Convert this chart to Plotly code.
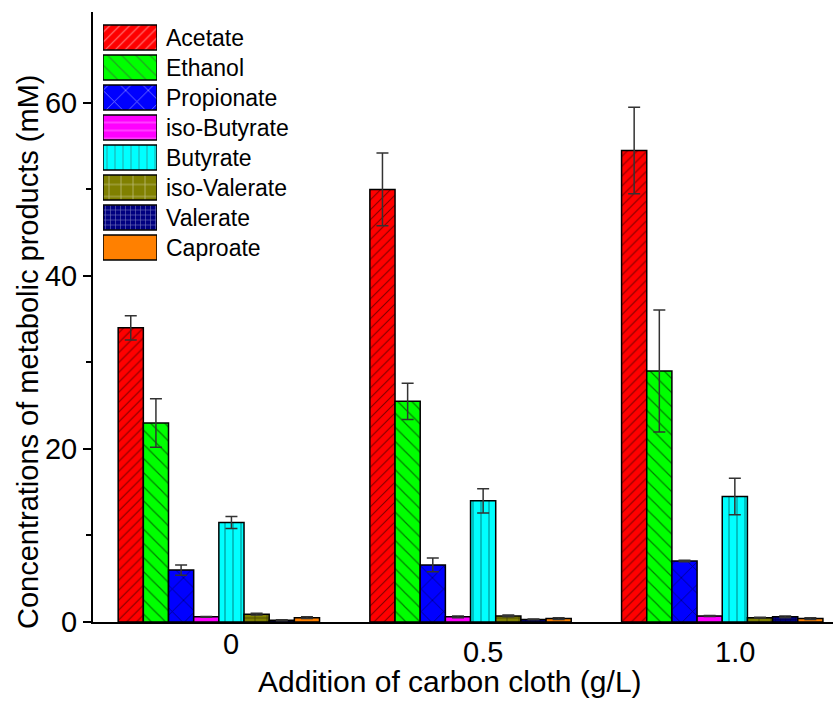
import plotly.graph_objects as go

# ---- data ----
groups = [0, 1, 2]
tick_labels = ["0", "0.5", "1.0"]
series_names = ["Acetate", "Ethanol", "Propionate", "iso-Butyrate",
                "Butyrate", "iso-Valerate", "Valerate", "Caproate"]
acetate = [34.0, 50.0, 54.5]
acetate_err = [1.4, 4.2, 5.0]
ethanol = [23.0, 25.5, 29.0]
ethanol_err = [2.8, 2.1, 7.05]
propionate = [6.0, 6.6, 7.05]
propionate_err = [0.6, 0.8, 0.1]
iso_butyrate = [0.6, 0.6, 0.7]
iso_butyrate_err = [0.05, 0.1, 0.05]
butyrate = [11.5, 14.0, 14.5]
butyrate_err = [0.7, 1.4, 2.1]
iso_valerate = [0.9, 0.7, 0.5]
iso_valerate_err = [0.1, 0.1, 0.05]
valerate = [0.2, 0.3, 0.6]
valerate_err = [0.05, 0.05, 0.1]
caproate = [0.5, 0.4, 0.4]
caproate_err = [0.1, 0.1, 0.1]

values = [acetate, ethanol, propionate, iso_butyrate, butyrate, iso_valerate, valerate, caproate]
errors = [acetate_err, ethanol_err, propionate_err, iso_butyrate_err, butyrate_err,
          iso_valerate_err, valerate_err, caproate_err]

# ---- styles ----
colors = ["#FF0000", "#00FF00", "#0000FF", "#FF00FF", "#00FFFF", "#808000", "#000080", "#FF8000"]
shapes = ["/", "\\", "x", "-", "|", "+", "+", ""]
psizes = [7, 10, 16, 8, 8, 12, 5, 8]
psolid = [0.15, 0.12, 0.1, 0.12, 0.12, 0.12, 0.2, 0.1]

FONT = "Liberation Sans, Arial, sans-serif"

fig = go.Figure()
for name, v, e, c, s, ps, so in zip(series_names, values, errors, colors, shapes, psizes, psolid):
    fig.add_trace(go.Bar(
        x=groups, y=v, name=name,
        marker=dict(color=c, line=dict(color="black", width=1.5),
                    pattern=dict(shape=s, fillmode="overlay", fgcolor="black",
                                 bgcolor=c, size=ps, solidity=so)),
        error_y=dict(type="data", array=e, visible=True, color="#333333",
                     thickness=1.5, width=6),
        showlegend=False,
    ))

# legend imitation on an overlay subplot (patterned swatches)
fig.add_trace(go.Bar(
    x=[1] * len(series_names), y=series_names, orientation="h",
    xaxis="x2", yaxis="y2", width=0.83,
    marker=dict(color=colors, line=dict(color="black", width=1.5),
                pattern=dict(shape=shapes, fillmode="overlay", fgcolor="black",
                             bgcolor=colors, size=psizes, solidity=psolid)),
    showlegend=False, hoverinfo="skip",
))

L, R, T, B = 93, 4, 12, 83
W, H = 837, 705
pw, ph = W - L - R, H - T - B

def px_x(p):
    return (p - L) / pw

def px_y(p):
    return (H - B - p) / ph

annotations = []
for name in series_names:
    annotations.append(dict(x=px_x(164), y=name, xref="paper", yref="y2",
                            text=name, showarrow=False, xanchor="left",
                            font=dict(family=FONT, size=23, color="black")))

label_y = [644, 652, 652]
for g, t, ly in zip(groups, tick_labels, label_y):
    annotations.append(dict(x=g + 0.05, y=px_y(ly), xref="x", yref="paper",
                            text=t, showarrow=False, xanchor="center", yanchor="middle",
                            font=dict(family=FONT, size=29, color="black")))

annotations.append(dict(x=px_x(450), y=px_y(681), xref="paper", yref="paper",
                        text="Addition of carbon cloth (g/L)", showarrow=False,
                        xanchor="center", yanchor="middle",
                        font=dict(family=FONT, size=30, color="black")))

annotations.append(dict(x=px_x(28), y=px_y(352), xref="paper", yref="paper",
                        text="Concentrations of metabolic products (mM)", showarrow=False,
                        textangle=-90, xanchor="center", yanchor="middle",
                        font=dict(family=FONT, size=29, color="black")))

fig.update_layout(
    width=W, height=H,
    margin=dict(l=L, r=R, t=T, b=B),
    paper_bgcolor="white", plot_bgcolor="white",
    barmode="group", bargap=0.2, bargroupgap=0,
    font=dict(family=FONT, color="black"),
    xaxis=dict(range=[-0.5, 2.44], showline=True, linecolor="black", linewidth=2,
               showticklabels=False, ticks="", showgrid=False, zeroline=False),
    yaxis=dict(range=[0, 70.5], showline=True, linecolor="black", linewidth=2,
               tickvals=[0, 20, 40, 60], ticks="outside", ticklen=8, tickwidth=2,
               tickcolor="black", showgrid=False, zeroline=False,
               tickfont=dict(family=FONT, size=29),
               minor=dict(tickvals=[10, 30, 50], ticks="outside", ticklen=5,
                          tickwidth=2, tickcolor="black")),
    xaxis2=dict(domain=[px_x(103), px_x(157)], range=[0, 1], visible=False,
                anchor="y2", fixedrange=True),
    yaxis2=dict(domain=[px_y(262.5), px_y(22.5)], visible=False, anchor="x2",
                categoryorder="array", categoryarray=series_names[::-1],
                range=[-0.5, 7.5], fixedrange=True),
    annotations=annotations,
)

fig.write_html("out.html")
